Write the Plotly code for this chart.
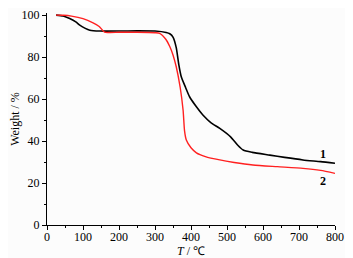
import plotly.graph_objects as go

# Curve 1 (black)
t1 = [25, 45, 63, 80, 91, 105, 119, 147, 200, 250, 300, 331, 341, 350, 359, 366, 373, 385, 396, 415, 433, 455, 480, 510, 530, 545, 570, 619, 660, 711, 760, 800]
w1 = [100, 99.6, 98.4, 96.8, 95.2, 93.8, 92.8, 92.4, 92.4, 92.5, 92.4, 91.7, 91.1, 89.5, 84.5, 76.5, 70.6, 65.5, 61.1, 56.3, 52.4, 48.8, 46.0, 42.0, 38.0, 35.7, 34.6, 33.3, 32.2, 31.0, 30.2, 29.4]
# Curve 2 (red)
t2 = [25, 45, 68, 100, 128, 145, 160, 200, 250, 300, 313, 330, 341, 350, 359, 370, 378, 382, 387, 400, 415, 440, 480, 520, 572, 640, 711, 760, 800]
w2 = [100, 99.9, 99.5, 98.3, 96.3, 94.6, 91.9, 91.8, 91.8, 91.6, 91.3, 88.5, 85.0, 81.0, 75.4, 65.5, 54.8, 45.0, 40.5, 36.8, 34.4, 32.6, 31.0, 29.8, 28.6, 27.8, 27.0, 26.0, 24.6]

series_labels = ["1", "2"]
label_pos_x = [767, 767]
label_pos_y = [33.7, 21.1]

font_family = "Liberation Serif"

fig = go.Figure()
fig.add_trace(go.Scatter(x=t1, y=w1, mode="lines", line=dict(color="black", width=1.6, shape="spline", smoothing=0.6), showlegend=False))
fig.add_trace(go.Scatter(x=t2, y=w2, mode="lines", line=dict(color="#ff2020", width=1.4, shape="spline", smoothing=0.6), showlegend=False))

for lab, lx, ly in zip(series_labels, label_pos_x, label_pos_y):
    fig.add_annotation(x=lx, y=ly, text="<b>%s</b>" % lab, showarrow=False,
                       font=dict(family=font_family, size=12, color="black"))

axis_common = dict(
    showline=True, linecolor="black", linewidth=1,
    showgrid=False, zeroline=False, automargin=False,
    ticks="outside", ticklen=4, tickwidth=1, tickcolor="black",
    tickfont=dict(family=font_family, size=12, color="black"),
)

fig.update_xaxes(range=[0, 800], tickvals=[0, 100, 200, 300, 400, 500, 600, 700, 800],
                 minor=dict(ticks="outside", ticklen=2, tickwidth=1, tickcolor="black", dtick=50),
                 ticklabelstandoff=-3,
                 title=dict(text="<i>T</i> / ℃", font=dict(family=font_family, size=12, color="black"), standoff=0),
                 **axis_common)
fig.update_yaxes(range=[0, 101], tickvals=[0, 20, 40, 60, 80, 100],
                 minor=dict(ticks="outside", ticklen=2, tickwidth=1, tickcolor="black", dtick=10),
                 title=dict(text="Weight / %", font=dict(family=font_family, size=12, color="black"), standoff=4),
                 **axis_common)

# the page body adds an 8px offset, so margins are shifted accordingly
fig.update_layout(
    width=353, height=258,
    font=dict(family=font_family),
    margin=dict(l=39, r=26, t=5, b=41),
    plot_bgcolor="#fcfcfc", paper_bgcolor="#fcfcfc",
)

fig.write_html("out.html")
